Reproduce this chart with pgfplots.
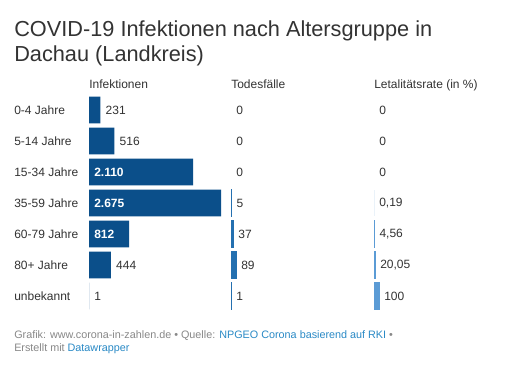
\documentclass[border=0pt]{standalone}
\usepackage{pgfplots}
\pgfplotsset{compat=1.18}
\usepackage{fontspec}
\setmainfont{Liberation Sans}
\definecolor{infc}{HTML}{0B4F8A}
\definecolor{todc}{HTML}{2470B0}
\definecolor{letc}{HTML}{5B9BD5}
\definecolor{txt}{HTML}{333333}
\definecolor{foot}{HTML}{888888}
\definecolor{lnk}{HTML}{2A8AC6}
\newcommand{\bodyfont}{\fontsize{9}{11}\selectfont}
\pgfplotsset{
  colbase/.style={
    scale only axis, height=162.75pt, ymin=-0.5, ymax=6.5, y dir=reverse,
    xmin=0, axis line style={draw=none}, xtick=\empty, ytick=\empty,
    major tick length=0pt, clip=false, anchor=north west,
    title style={at={(0,1)}, anchor=base west, yshift=-1.5pt, inner sep=0pt,
      font=\bodyfont, text=txt},
  },
  lab/.style={draw=none, mark=none, nodes near coords, point meta=explicit symbolic,
    nodes near coords style={anchor=west, xshift=3.75pt, inner sep=0pt,
      font=\bodyfont, text=txt}},
  inlab/.style={draw=none, mark=none, nodes near coords, point meta=explicit symbolic,
    nodes near coords style={anchor=west, xshift=3.75pt, inner sep=0pt,
      font=\bodyfont\bfseries, text=white}},
}
\begin{document}
\begin{tikzpicture}
\path[use as bounding box, fill=white] (0,0) rectangle (396pt,-279pt);
% title
\node[anchor=base west, inner sep=0pt, font=\fontsize{16.3}{18}\selectfont, text=txt]
  at (10.5pt,-27.5pt) {COVID-19 Infektionen nach Altersgruppe in};
\node[anchor=base west, inner sep=0pt, font=\fontsize{16.3}{18}\selectfont, text=txt]
  at (10.5pt,-46.3pt) {Dachau (Landkreis)};
% Infektionen
\begin{axis}[colbase, at={(66.75pt,-70.875pt)}, width=99pt, xmax=2675,
  title={Infektionen},
  ytick={0,...,6},
  yticklabels={0-4 Jahre,5-14 Jahre,15-34 Jahre,35-59 Jahre,60-79 Jahre,80+ Jahre,unbekannt},
  yticklabel style={anchor=west, xshift=-56.25pt, inner sep=0pt, font=\bodyfont, text=txt}]
\addplot[xbar, bar width=0.87, fill=infc, draw=none]
  coordinates {(231,0) (516,1) (2110,2) (2675,3) (812,4) (444,5) (1,6)};
\addplot[lab] table[meta=lab] {
x y lab
231 0 231
516 1 516
444 5 444
1 6 1
};
\addplot[inlab] table[meta=lab] {
x y lab
0 2 2.110
0 3 2.675
0 4 812
};
\end{axis}
% Todesfaelle
\begin{axis}[colbase, at={(173.25pt,-70.875pt)}, width=3.75pt, xmax=89,
  title={Todesfälle}]
\addplot[xbar, bar width=0.87, fill=todc, draw=todc, line width=0.5pt]
  coordinates {(5,3) (37,4) (89,5) (1,6)};
\addplot[lab] table[meta=lab] {
x y lab
0 0 0
0 1 0
0 2 0
5 3 5
37 4 37
89 5 89
1 6 1
};
\end{axis}
% Letalitaetsrate
\begin{axis}[colbase, at={(280.5pt,-70.875pt)}, width=3.75pt, xmax=100,
  title={Letalitätsrate (in \%)}]
\addplot[xbar, bar width=0.87, fill=letc, draw=none]
  coordinates {(0.19,3)};
\addplot[xbar, bar width=0.87, fill=letc, draw=letc, line width=0.5pt]
  coordinates {(4.56,4) (20.05,5) (100,6)};
\addplot[lab] table[meta=lab] {
x y lab
0 0 0
0 1 0
0 2 0
0.19 3 0,19
4.56 4 4,56
20.05 5 20,05
100 6 100
};
\end{axis}
% footer
\node[anchor=base west, inner sep=0pt, font=\fontsize{8.1}{10}\selectfont, text=foot]
  at (10.5pt,-254pt) {Grafik: www.corona-in-zahlen.de • Quelle: \textcolor{lnk}{NPGEO Corona basierend auf RKI} •};
\node[anchor=base west, inner sep=0pt, font=\fontsize{8.1}{10}\selectfont, text=foot]
  at (10.5pt,-263.8pt) {Erstellt mit \textcolor{lnk}{Datawrapper}};
\end{tikzpicture}
\end{document}
